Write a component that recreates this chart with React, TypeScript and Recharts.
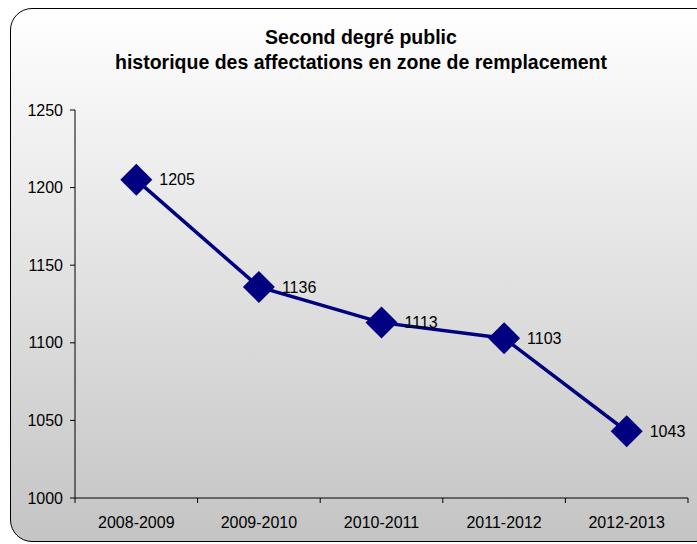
import { LineChart, Line, XAxis, YAxis } from 'recharts';

const categories = ['2008-2009', '2009-2010', '2010-2011', '2011-2012', '2012-2013'];
const values = [1205, 1136, 1113, 1103, 1043];
const yTicks = [1000, 1050, 1100, 1150, 1200, 1250];
const titleLines = ['Second degré public', 'historique des affectations en zone de remplacement'];

const data = categories.map((annee, i) => ({ annee, valeur: values[i] }));

const W = 697;
const H = 544;
const margin = { top: 110, right: 9, bottom: 10, left: 0 };
const Y_AXIS_W = 75;
const plotW = W - margin.left - margin.right - Y_AXIS_W;
const band = plotW / categories.length;
const FONT = '"Liberation Sans", Arial, sans-serif';
const NAVY = '#000080';
const LABEL_SIZE = 16;

const Diamond = (props: any) => {
  const { cx, cy } = props;
  if (cx == null || cy == null) return null;
  const r = 16;
  return <polygon points={`${cx},${cy - r} ${cx + r},${cy} ${cx},${cy + r} ${cx - r},${cy}`} fill={NAVY} />;
};

const ValueLabel = (props: any) => {
  const { x, y, value } = props;
  return (
    <text x={x + 23} y={y} dy="0.35em" fontSize={LABEL_SIZE} fontFamily={FONT} fill="#000">
      {value}
    </text>
  );
};

const CatTick = (props: any) => {
  const { x, y, payload, index } = props;
  const last = index === categories.length - 1;
  return (
    <g>
      <line x1={x - band / 2} x2={x - band / 2} y1={y} y2={y + 5} stroke="#000" />
      {last && <line x1={x + band / 2} x2={x + band / 2} y1={y} y2={y + 5} stroke="#000" />}
      <text x={x} y={y + 24} dy="0.35em" textAnchor="middle" fontSize={LABEL_SIZE} fontFamily={FONT} fill="#000">
        {payload.value}
      </text>
    </g>
  );
};

export default function App() {
  return (
    <div style={{ position: 'absolute', left: 0, top: 0, width: W, height: H, overflow: 'hidden' }}>
      <div
        style={{
          position: 'absolute',
          left: 10,
          top: 8,
          width: 706,
          height: 532,
          border: '1.5px solid #000',
          borderRadius: 22,
          background: 'linear-gradient(#ffffff, #c4c4c4)',
        }}
      />
      <div style={{ position: 'absolute', left: 0, top: 0 }}>
        <LineChart width={W} height={H} data={data} margin={margin}>
          <text x={361} y={37} dy="0.35em" textAnchor="middle" fontSize={19.5} fontWeight="bold" fontFamily={FONT}>
            {titleLines[0]}
          </text>
          <text x={361} y={62} dy="0.35em" textAnchor="middle" fontSize={19.5} fontWeight="bold" fontFamily={FONT}>
            {titleLines[1]}
          </text>
          <XAxis
            dataKey="annee"
            height={36}
            padding={{ left: band / 2, right: band / 2 }}
            tickSize={0}
            tickMargin={0}
            tickLine={false}
            axisLine={{ stroke: '#000' }}
            tick={<CatTick />}
            interval={0}
          />
          <YAxis
            width={Y_AXIS_W}
            domain={[1000, 1250]}
            ticks={yTicks}
            tickSize={5}
            tickMargin={7}
            axisLine={{ stroke: '#000' }}
            tickLine={{ stroke: '#000' }}
            tick={{ fill: '#000', fontSize: LABEL_SIZE, fontFamily: FONT }}
          />
          <Line
            dataKey="valeur"
            stroke={NAVY}
            strokeWidth={3.5}
            dot={<Diamond />}
            activeDot={false}
            label={<ValueLabel />}
            isAnimationActive={false}
          />
        </LineChart>
      </div>
    </div>
  );
}
